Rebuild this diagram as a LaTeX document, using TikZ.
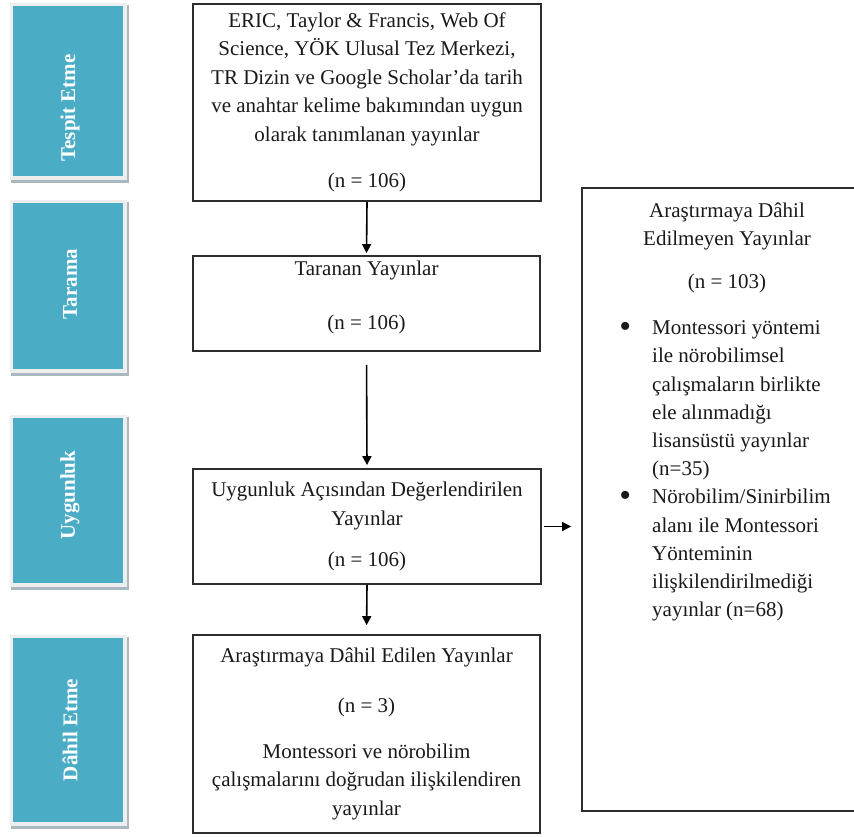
\documentclass[tikz,border=0pt]{standalone}
\usepackage{fontspec}
\setmainfont{Liberation Serif}
\usetikzlibrary{arrows.meta,calc}
\definecolor{sideteal}{RGB}{75,172,198}
\definecolor{sideshadow}{RGB}{168,186,192}
\definecolor{sideframe}{RGB}{238,238,238}
\definecolor{boxline}{RGB}{45,45,45}

\begin{document}
\begin{tikzpicture}[x=0.5pt,y=-0.5pt,>={Triangle[length=4.5pt,width=4.5pt]},
    box/.style={draw=boxline,line width=0.9pt,align=center,inner sep=0pt,
      text=black!90,font=\fontsize{10.5}{14.2}\selectfont},
    boxtext/.style={inner sep=0pt,text=black!90,font=\fontsize{10.5}{14.1}\selectfont},
    sidelabel/.style={rotate=90,text=white,inner sep=0pt,
      font=\bfseries\fontsize{10.5}{12}\selectfont},
    flow/.style={->,line width=0.8pt,black}]
    \clip (0,0) rectangle (854,836);
    % Define coordinates
    \coordinate (K) at (367,102.5);
    \coordinate (T) at (366.5,303.5);
    \coordinate (U) at (367,526.5);
    \coordinate (D) at (366.5,734);
    \coordinate (H) at (727,499.5);

    % Stage labels on the left
    \foreach \ust/\alt in {6/176,203/369,418/583,638/822} {
        \fill[sideshadow] (11,\ust-1) rectangle (129,\alt+7);
        \fill[sideframe] (10,\ust-3) rectangle (127,\alt+4);
        \fill[sideteal] (13,\ust) rectangle (123,\alt);
    }
    \foreach \y/\lbl/\nm in {108/Tespit Etme/tespit,284/Tarama/tarama,
                             495/Uygunluk/uygunluk,730/Dâhil Etme/dahiletme}
        \node[sidelabel] (\nm) at (70,\y) {\lbl};

    % Flow boxes
    \node[box,minimum width=174pt,minimum height=98.5pt] (kaynak) at (K)
        {ERIC, Taylor \& Francis, Web Of\\Science, YÖK Ulusal Tez Merkezi,\\
         TR Dizin ve Google Scholar'da tarih\\ve anahtar kelime bakımından uygun\\
         olarak tanımlanan yayınlar\\[9.25pt](n = 106)};
    \node[box,minimum width=173.5pt,minimum height=47.5pt] (taranan) at (T)
        {Taranan Yayınlar\\[12.75pt](n = 106)\\[-5.6pt]\mbox{}};
    \node[box,minimum width=174pt,minimum height=57.5pt] (uygun) at (U)
        {Uygunluk Açısından Değerlendirilen\\Yayınlar\\[6.25pt](n = 106)};
    \node[box,minimum width=173.5pt,minimum height=99pt] (dahil) at (D)
        {Araştırmaya Dâhil Edilen Yayınlar\\[10.5pt](n = 3)\\[9pt]
         Montessori ve nörobilim\\çalışmalarını doğrudan ilişkilendiren\\yayınlar};

    % Excluded records
    \node[box,minimum width=145pt,minimum height=311.5pt] (haric) at (H) {};
    \node[boxtext,align=center] (haricbaslik) at (727,248)
        {Araştırmaya Dâhil\\Edilmeyen Yayınlar\\[7.5pt](n = 103)};
    \node[boxtext,anchor=west] (hariclist) at (619,470)
        {\begin{tabular}{@{}l@{\hspace{10.5pt}}l@{}}
         \raisebox{-1.2pt}{\scalebox{1.6}{\textbullet}} & Montessori yöntemi\\
                     & ile nörobilimsel\\
                     & çalışmaların birlikte\\
                     & ele alınmadığı\\
                     & lisansüstü yayınlar\\
                     & (n=35)\\
         \raisebox{-1.2pt}{\scalebox{1.6}{\textbullet}} & Nörobilim/Sinirbilim\\
                     & alanı ile Montessori\\
                     & Yönteminin\\
                     & ilişkilendirilmediği\\
                     & yayınlar (n=68)
         \end{tabular}};

    % Arrows
    \draw[flow,shorten >=1pt] (kaynak.south) -- (taranan.north);
    \draw[flow,shorten <=6.5pt,shorten >=1.5pt] (taranan.south) -- (uygun.north);
    \draw[flow,shorten >=4.5pt] (uygun.south) -- (dahil.north);
    \draw[flow,shorten <=1pt,shorten >=5pt] (uygun.east) -- (uygun.east -| haric.west);
\end{tikzpicture}
\end{document}
